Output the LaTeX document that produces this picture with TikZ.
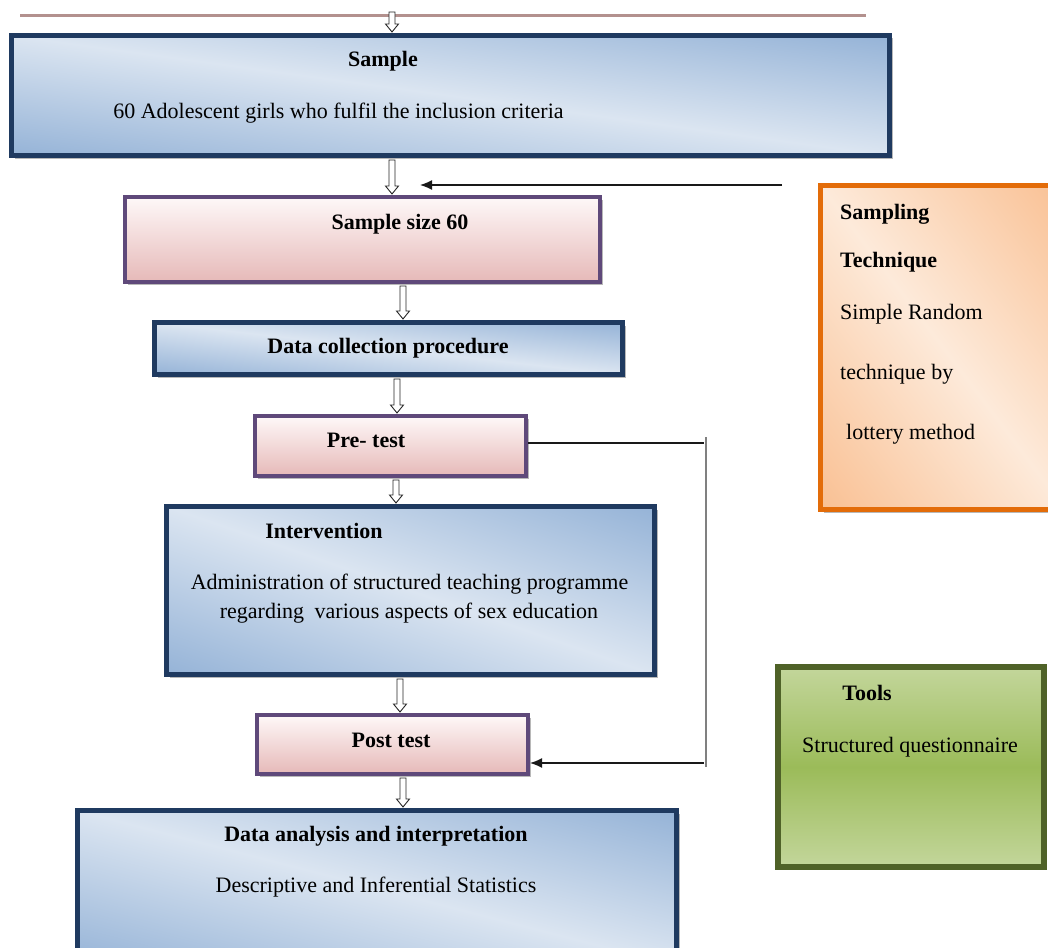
\documentclass[tikz,border=0pt]{standalone}
\usepackage{fontspec}
\setmainfont{Liberation Serif}
\usetikzlibrary{shadows,arrows.meta,calc}
\definecolor{navy}{HTML}{1F3A60}
\definecolor{purp}{HTML}{5F497A}
\definecolor{orng}{HTML}{E36C09}
\definecolor{olive}{HTML}{4F6228}
\definecolor{blueL}{HTML}{DBE5F1}
\definecolor{blueD}{HTML}{95B3D7}
\definecolor{pinkL}{HTML}{FEF8F8}
\definecolor{pinkD}{HTML}{E6B9B8}
\definecolor{orL}{HTML}{FDEADA}
\definecolor{orD}{HTML}{F9C093}
\definecolor{grL}{HTML}{C3D69B}
\definecolor{grD}{HTML}{9BBB59}
\definecolor{rosy}{HTML}{B3918E}
\begin{document}
\begin{tikzpicture}[x=1pt,y=-1pt,
  box/.style={rectangle, inner sep=0pt, anchor=center,
    drop shadow={shadow xshift=3pt, shadow yshift=-3pt, fill=black, opacity=0.28}},
  diagshade/.style n args={4}{minimum width=#1pt, minimum height=#2pt, fill=#4,
    path picture={
      \pgfmathsetmacro\dang{-atan(#2/#1)}
      \pgfmathsetmacro\dd{100*veclen(#1/100,#2/100)}
      \pgfmathsetmacro\dM{(#1/100)*(#2/100)/(\dd/100)*100}
      \pgfmathsetmacro\dL{\dd/2+20}
      \shade[top color=#3, bottom color=#3, middle color=#4,
        transform canvas={rotate around={\dang:(path picture bounding box.center)}}]
        ($(path picture bounding box.center)+(-\dL pt,-\dM pt)$) rectangle
        ($(path picture bounding box.center)+(\dL pt,\dM pt)$);
    }},
  bluebox/.style 2 args={box, draw=navy, line width=5pt, diagshade={#1}{#2}{blueD}{blueL}},
  pinkbox/.style={box, draw=purp, line width=4pt, top color=pinkL, bottom color=pinkD},
  orbox/.style 2 args={box, draw=orng, line width=5pt, diagshade={#1}{#2}{orD}{orL}},
  grbox/.style={box, draw=olive, line width=6pt, top color=grL, bottom color=grL, middle color=grD},
  txt/.style={anchor=base, inner sep=0pt, font=\fontsize{22}{26}\selectfont},
  btxt/.style={txt, font=\fontsize{22}{26}\selectfont\bfseries},
  ltxt/.style={txt, anchor=base west},
  lbtxt/.style={btxt, anchor=base west},
  hollow/.style={draw=black!85, line width=0.9pt, fill=white, to path={let \p1=(\tikztostart), \p2=(\tikztotarget) in
    (\x1-3pt,\y1-2pt) -- (\x1-3pt,\y2+9pt) -- (\x1-6.5pt,\y2+9pt) -- (\x1,\y2+1pt) -- (\x1+6.5pt,\y2+9pt) -- (\x1+3pt,\y2+9pt) -- (\x1+3pt,\y1-2pt) -- cycle}},
  conn/.style={draw=black!90, line width=1.4pt},
  tip/.style={-{Latex[length=12pt,width=10pt]}},
  vline/.style={draw=black!50, line width=2pt},
  topline/.style={draw=rosy, line width=3pt}
]
\useasboundingbox (0,0) rectangle (1048,947);
\clip (0,0) rectangle (1048,947);

% boxes
\node[bluebox={878}{120}] (sample) at (450.5,95.5) {};
\node[pinkbox, minimum width=475pt, minimum height=85pt] (size) at (362.5,239.5) {};
\node[bluebox={468}{52}] (dcp) at (388.5,348.5) {};
\node[pinkbox, minimum width=271pt, minimum height=60pt] (pre) at (390.5,446) {};
\node[bluebox={488}{168}] (int) at (410.5,590.5) {};
\node[pinkbox, minimum width=271pt, minimum height=59pt] (post) at (392.5,744.5) {};
\node[bluebox={599}{155}] (ana) at (377,888) {};
\node[orbox={245}{324}] (samp) at (943,347.5) {};
\node[grbox, minimum width=266pt, minimum height=200pt] (tools) at (911,767) {};

% top rule and arrows
\coordinate (l1) at (20,16);
\coordinate (l2) at (866,16);
\draw[topline] (l1) -- (l2);
\coordinate (t0) at (392,10);
\draw[hollow] (t0) to (sample.north);
\draw[hollow] (sample.south -| 392,0) to (size.north);
\draw[hollow] (size.south -| 403,0) to (dcp.north);
\draw[hollow] (dcp.south -| 397,0) to (pre.north);
\draw[hollow] (pre.south -| 396,0) to (int.north);
\draw[hollow] (int.south -| 400,0) to (post.north);
\draw[hollow] (post.south -| 403,0) to (ana.north);

% side connectors
\coordinate (s1) at (782,185);
\coordinate (s2) at (420,185);
\draw[conn, tip] (s1) -- (s2);
\coordinate (k1) at (704,443);
\draw[conn] (pre.east |- k1) -- (k1);
\coordinate (v1) at (706,437);
\coordinate (v2) at (706,767);
\draw[vline] (v1) -- (v2);
\coordinate (k2) at (704,763);
\draw[conn, tip] (k2) -- (post.east |- k2);

% texts
\node[btxt] (tsample) at (383,67) {Sample};
\node[txt] (tsample2) at (338.5,118) {60 Adolescent girls who fulfil the inclusion criteria};
\node[btxt] (tsize) at (400,229) {Sample size 60};
\node[btxt] (tdcp) at (388,353) {Data collection procedure};
\node[btxt] (tpre) at (366,447) {Pre- test};
\node[btxt] (tint) at (324,538) {Intervention};
\node[txt] (tint2) at (409.5,589) {Administration of structured teaching programme};
\node[txt] (tint3) at (409,618) {regarding\hspace{5pt} various aspects of sex education};
\node[btxt] (tpost) at (391,747) {Post test};
\node[btxt] (tana) at (376,841) {Data analysis and interpretation};
\node[txt] (tana2) at (376,892) {Descriptive and Inferential Statistics};
\node[lbtxt] (ts1) at (840,219) {Sampling};
\node[lbtxt] (ts2) at (840,267) {Technique};
\node[ltxt] (ts3) at (840,319) {Simple Random};
\node[ltxt] (ts4) at (840,379) {technique by};
\node[ltxt] (ts5) at (846,439) {lottery method};
\node[btxt] (ttools) at (867,700) {Tools};
\node[txt] (ttools2) at (910,752) {Structured questionnaire};
\end{tikzpicture}
\end{document}
